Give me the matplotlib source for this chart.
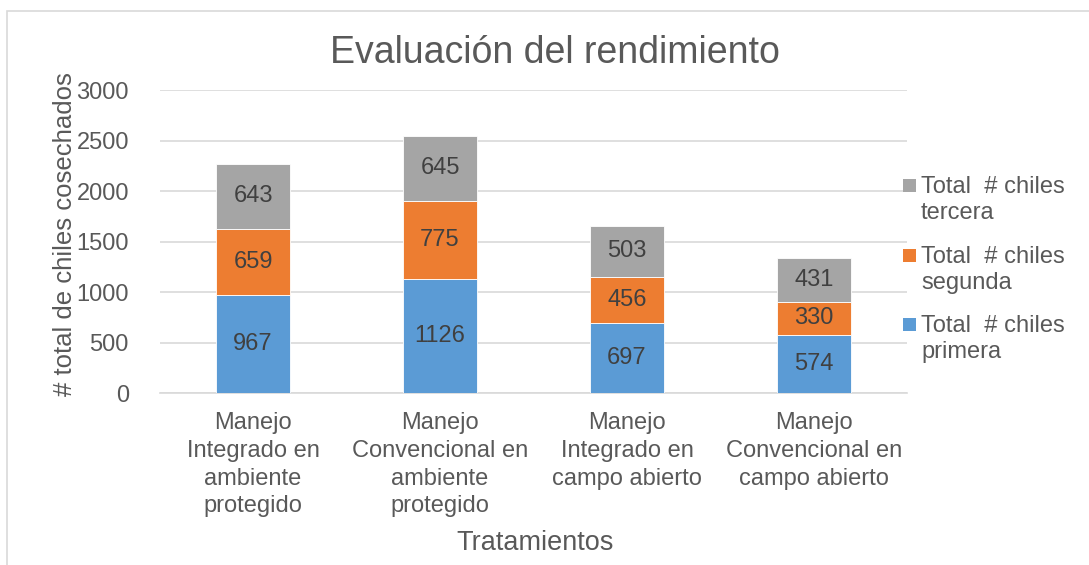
import matplotlib.pyplot as plt
from matplotlib.patches import Rectangle

plt.rcParams['font.family'] = ['Liberation Sans', 'DejaVu Sans']

# Data
categories = ['Manejo\nIntegrado en\nambiente\nprotegido',
              'Manejo\nConvencional en\nambiente\nprotegido',
              'Manejo\nIntegrado en\ncampo abierto',
              'Manejo\nConvencional en\ncampo abierto']
primera = [967, 1126, 697, 574]
segunda = [659, 775, 456, 330]
tercera = [643, 645, 503, 431]
series_names = ['Total  # chiles\nprimera', 'Total  # chiles\nsegunda', 'Total  # chiles\ntercera']
colors = ['#5B9BD5', '#ED7D31', '#A5A5A5']

TXT = '#595959'
FS = 17
W, H = 1089, 565

fig = plt.figure(figsize=(W / 100, H / 100), dpi=100)
ax = fig.add_axes([0.1465, 0.3044, 0.6868, 0.5363])

x = range(len(categories))
bottoms = [0] * len(categories)
for vals, name, c in zip([primera, segunda, tercera], series_names, colors):
    ax.bar(x, vals, width=0.4, bottom=bottoms, color=c, label=name,
           edgecolor='white', linewidth=0.6, zorder=3)
    for xi, v, bt in zip(x, vals, bottoms):
        ax.text(xi, bt + v / 2, str(v), ha='center', va='center',
                fontsize=FS, color='#404040', zorder=4)
    bottoms = [bt + v for bt, v in zip(bottoms, vals)]

ax.set_xlim(-0.5, len(categories) - 0.5)
ax.set_ylim(0, 3000)
ax.set_yticks(range(0, 3001, 500))
ax.grid(axis='y', color='#D9D9D9', linewidth=1.2, zorder=0)
for s in ['top', 'right', 'left']:
    ax.spines[s].set_visible(False)
ax.spines['bottom'].set_color('#D9D9D9')
ax.spines['bottom'].set_linewidth(1.2)
ax.tick_params(axis='both', length=0, labelsize=FS, labelcolor=TXT)
ax.tick_params(axis='y', pad=22)
ax.tick_params(axis='x', pad=14)
ax.set_xticks(list(x))
ax.set_xticklabels(categories, linespacing=1.33)

# axis titles and chart title
fig.text(65 / W, 1 - 234 / H, '# total de chiles cosechados', rotation=90,
         ha='center', va='center', fontsize=18.5, color=TXT)
fig.text(535.5 / W, 1 - 550 / H, 'Tratamientos', ha='center', va='baseline',
         fontsize=19.5, color=TXT)
fig.text(555 / W, 1 - 63 / H, 'Evaluación del rendimiento', ha='center',
         va='baseline', fontsize=27, color=TXT)

# legend (top entry = last series), square aligned with first text line
baselines = [192, 262, 331]
for name, c, b in zip(series_names[::-1], colors[::-1], baselines):
    fig.patches.append(Rectangle((903 / W, 1 - (b - 0.5) / H), 12.5 / W, 12.5 / H,
                                 transform=fig.transFigure, facecolor=c,
                                 edgecolor='none'))
    # va='baseline' anchors the last line, so place it one line below
    fig.text(921 / W, 1 - (b + 27) / H, name, ha='left', va='baseline',
             fontsize=FS, color=TXT, linespacing=1.26)

# chart border
fig.patches.append(Rectangle((7 / W, -0.1), 1.2, 1 - 11 / H + 0.1,
                             transform=fig.transFigure, fill=False,
                             edgecolor='#D9D9D9', linewidth=1.2))

fig.savefig('out.png', dpi=100)
